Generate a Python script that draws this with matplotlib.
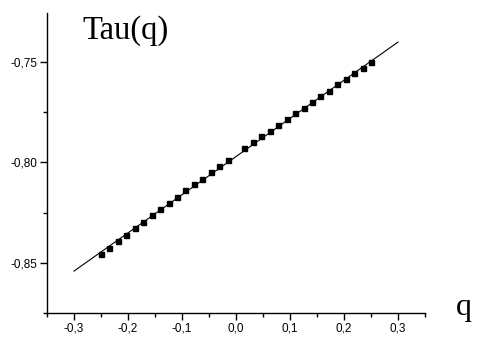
import matplotlib
matplotlib.use("Agg")
import matplotlib.pyplot as plt
from matplotlib.ticker import MultipleLocator, FuncFormatter

# data
q_points = [-0.2500, -0.2344, -0.2188, -0.2031, -0.1875, -0.1719, -0.1563, -0.1406,
            -0.1250, -0.1094, -0.0938, -0.0781, -0.0625, -0.0469, -0.0313, -0.0156,
            0.0156, 0.0313, 0.0469, 0.0625, 0.0781, 0.0938, 0.1094, 0.1250,
            0.1406, 0.1563, 0.1719, 0.1875, 0.2031, 0.2188, 0.2344, 0.2500]
tau_points = [-0.8454, -0.8424, -0.8393, -0.8360, -0.8328, -0.8297, -0.8264, -0.8232,
              -0.8200, -0.8171, -0.8139, -0.8108, -0.8080, -0.8048, -0.8016, -0.7989,
              -0.7927, -0.7899, -0.7869, -0.7841, -0.7813, -0.7783, -0.7755, -0.7726,
              -0.7698, -0.7668, -0.7642, -0.7610, -0.7586, -0.7556, -0.7527, -0.7499]
fit_q = [-0.3, 0.3]
fit_tau = [-0.8541, -0.7400]

plt.rcParams['font.family'] = ['Liberation Sans', 'DejaVu Sans']

fig = plt.figure(figsize=(4.78, 3.38), dpi=100)
ax = fig.add_axes([47/478, 25/338, (425-47)/478, (313-13)/338])

ax.plot(fit_q, fit_tau, color='black', linewidth=0.8)
ax.plot(q_points, tau_points, linestyle='none', marker='s', markersize=3.6,
        color='black')

ax.set_xlim(-0.35, 0.35)
ax.set_ylim(-0.875, -0.7255)

for s in ['top', 'right']:
    ax.spines[s].set_visible(False)
for s in ['left', 'bottom']:
    ax.spines[s].set_linewidth(1.0)

ax.xaxis.set_major_locator(MultipleLocator(0.1))
ax.xaxis.set_minor_locator(MultipleLocator(0.05))
ax.yaxis.set_major_locator(MultipleLocator(0.05))
ax.yaxis.set_minor_locator(MultipleLocator(0.025))

def xfmt(v, pos):
    s = "%.1f" % v
    if s == "-0.0":
        s = "0.0"
    return s.replace('.', ',')

def yfmt(v, pos):
    return ("%.2f" % v).replace('.', ',')

ax.xaxis.set_major_formatter(FuncFormatter(xfmt))
ax.yaxis.set_major_formatter(FuncFormatter(yfmt))

ax.tick_params(axis='both', which='major', direction='out', length=5, width=1,
               labelsize=8.5, pad=2)
ax.tick_params(axis='both', which='minor', direction='out', length=3, width=1)

fig.text(82/478, 1 - 31/338, "Tau(q)", family='Liberation Serif', fontsize=23.5,
         ha='left', va='center')
fig.text(464/478, 1 - 308/338, "q", family='Liberation Serif', fontsize=23,
         ha='center', va='center')

fig.savefig("out.png", dpi=100)
